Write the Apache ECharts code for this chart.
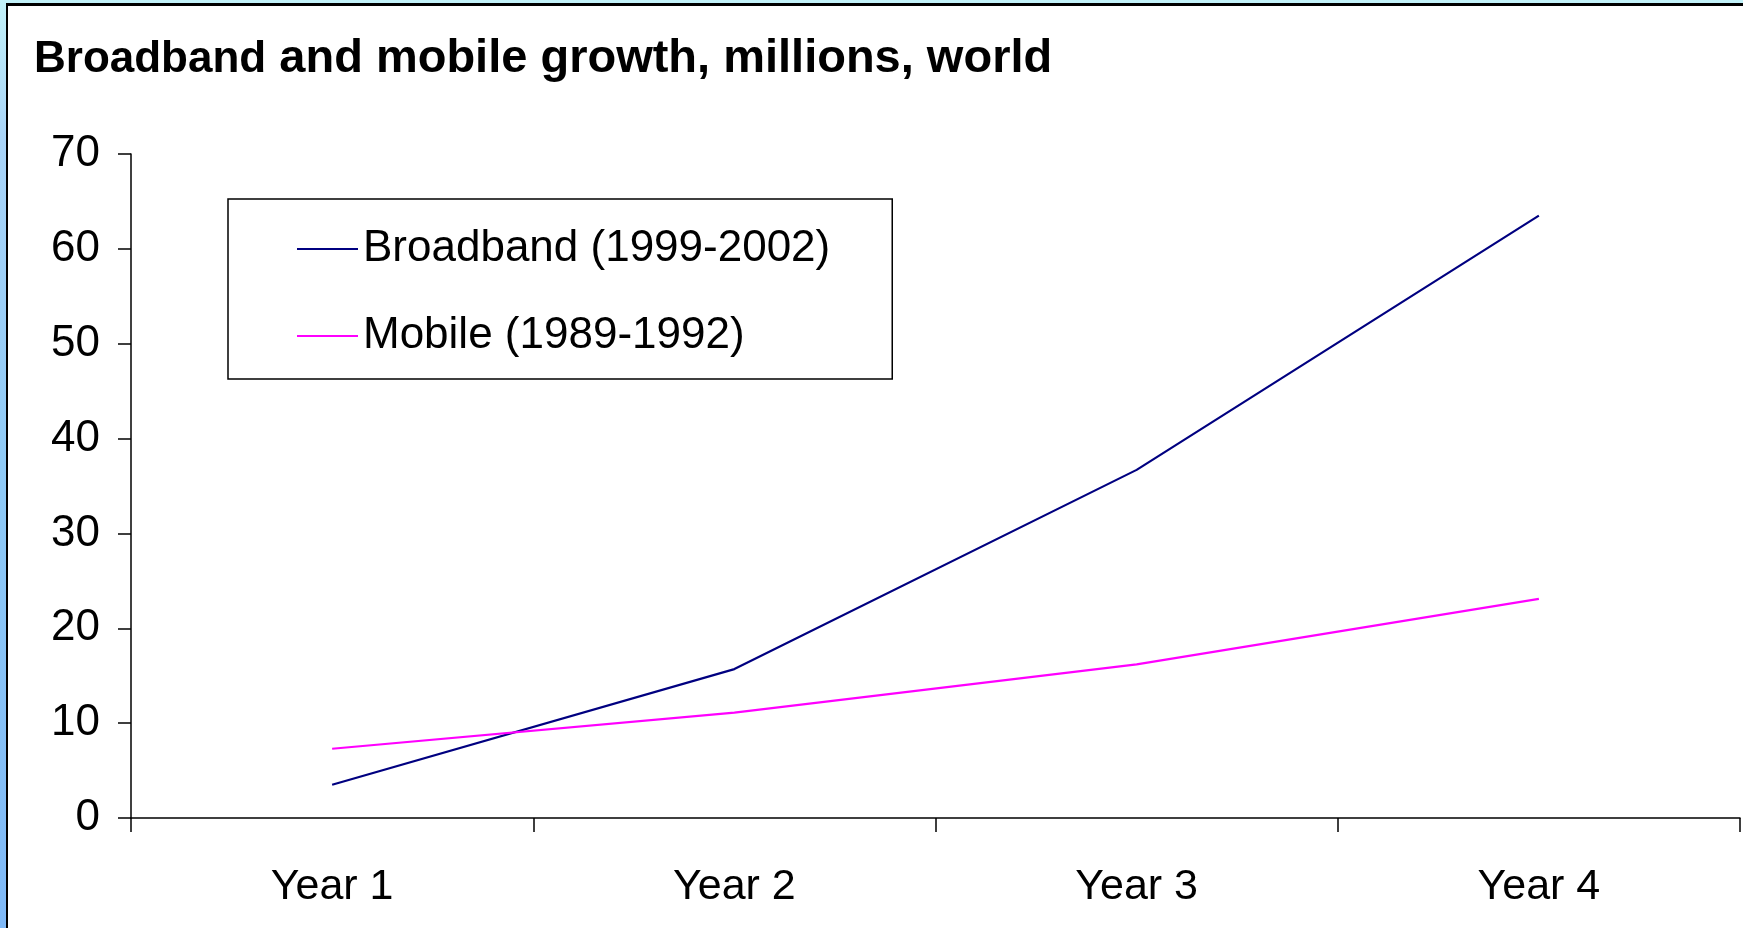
<!DOCTYPE html>
<html>
<head>
<meta charset="utf-8">
<script src="https://cdn.jsdelivr.net/npm/echarts@6/dist/echarts.min.js"></script>
<style>
  html, body { margin: 0; padding: 0; width: 1743px; height: 928px; overflow: hidden; }
  body { background: linear-gradient(to bottom, #c2f2f9 0%, #a9d4f8 15%, #8fcaf6 50%, #7fb9f7 100%); position: relative; }
  #panel { position: absolute; left: 6px; top: 3px; right: 0; bottom: 0; background: #fff;
           border-left: 2px solid #000; border-top: 3px solid #000; }
  #chart { position: absolute; left: 0; top: 0; width: 1743px; height: 928px; }
</style>
</head>
<body>
<div id="panel"></div>
<div id="chart"></div>
<script>
// data
var categories = ['Year 1', 'Year 2', 'Year 3', 'Year 4'];
var broadband = [3.5, 15.7, 36.7, 63.5];
var mobile = [7.3, 11.1, 16.2, 23.1];
var seriesNames = ['Broadband (1999-2002)', 'Mobile (1989-1992)'];

var font = '"Liberation Sans", Arial, sans-serif';

var chart = echarts.init(document.getElementById('chart'));
chart.setOption({
    backgroundColor: 'transparent',
    animation: false,
    textStyle: { fontFamily: font },
    title: {
        text: '{a|Broadband}{b| and mobile growth, millions, world}',
        left: 29,
        top: 31,
        textStyle: {
            rich: {
                a: { fontFamily: font, fontWeight: 'bold', fontSize: 44, color: '#000' },
                b: { fontFamily: font, fontWeight: 'bold', fontSize: 47, color: '#000' }
            }
        }
    },
    legend: {
        orient: 'vertical',
        left: 228,
        top: 199,
        backgroundColor: '#fff',
        borderColor: '#000',
        borderWidth: 1.5,
        borderRadius: 0,
        padding: [28, 62, 21, 69],
        icon: 'rect',
        itemWidth: 61,
        itemHeight: 2,
        itemGap: 43,
        itemTextGap: 7,
        textStyle: { fontFamily: font, fontSize: 44, color: '#000' },
        data: seriesNames
    },
    grid: {
        left: 131,
        right: 3,
        top: 154,
        bottom: 110,
        containLabel: false
    },
    xAxis: {
        type: 'category',
        data: categories,
        boundaryGap: true,
        axisLine: { lineStyle: { color: '#000', width: 1.5 } },
        axisTick: { show: true, length: 14, lineStyle: { color: '#000', width: 1.5 } },
        axisLabel: { fontFamily: font, fontSize: 43, color: '#000', margin: 48 },
        splitLine: { show: false }
    },
    yAxis: {
        type: 'value',
        min: 0,
        max: 70,
        interval: 10,
        axisLine: { show: true, lineStyle: { color: '#000', width: 1.5 } },
        axisTick: { show: true, length: 13, lineStyle: { color: '#000', width: 1.5 } },
        axisLabel: { fontFamily: font, fontSize: 44, color: '#000', margin: 31 },
        splitLine: { show: false }
    },
    series: [
        {
            name: seriesNames[0],
            type: 'line',
            data: broadband,
            symbol: 'none',
            lineStyle: { color: '#000080', width: 2.2 },
            itemStyle: { color: '#000080' }
        },
        {
            name: seriesNames[1],
            type: 'line',
            data: mobile,
            symbol: 'none',
            lineStyle: { color: '#ff00ff', width: 2.2 },
            itemStyle: { color: '#ff00ff' }
        }
    ]
});
</script>
</body>
</html>
